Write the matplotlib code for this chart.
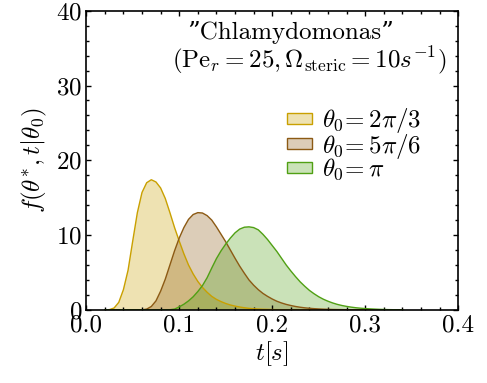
import numpy as np
import matplotlib
matplotlib.use("Agg")
import matplotlib.pyplot as plt
from matplotlib.patches import Patch

plt.rcParams["font.family"] = "serif"
plt.rcParams["font.serif"] = ["cmr10"]
plt.rcParams["mathtext.fontset"] = "cm"
plt.rcParams["axes.formatter.use_mathtext"] = True
plt.rcParams["font.size"] = 18

# sample times [s], shared by the three curves
t = np.round(np.arange(0.020, 0.3401, 0.005), 3)

# first-passage density f(theta*, t | theta0)
f_2pi3 = [0.0, 0.03, 0.25, 1.0, 2.7, 5.3, 9.2, 13.0, 15.7, 17.0,
          17.4, 17.1, 16.3, 14.9, 13.0, 11.0, 9.2, 7.5, 6.0, 4.8,
          3.8, 3.0, 2.35, 1.8, 1.4, 1.1, 0.85, 0.65, 0.5, 0.38,
          0.28, 0.2, 0.15, 0.11, 0.08, 0.06, 0.04, 0.03, 0.02, 0.01,
          0.0, 0.0, 0.0, 0.0, 0.0, 0.0, 0.0, 0.0, 0.0, 0.0,
          0.0, 0.0, 0.0, 0.0, 0.0, 0.0, 0.0, 0.0, 0.0, 0.0,
          0.0, 0.0, 0.0, 0.0, 0.0]
f_5pi6 = [0.0, 0.0, 0.0, 0.0, 0.0, 0.0, 0.0, 0.0, 0.0, 0.1,
          0.45, 1.2, 2.5, 4.1, 6.0, 7.9, 9.6, 11.0, 12.1, 12.75,
          13.0, 12.95, 12.6, 12.0, 11.1, 10.1, 9.1, 8.0, 6.9, 5.85,
          4.9, 4.0, 3.3, 2.7, 2.2, 1.8, 1.45, 1.15, 0.92, 0.73,
          0.58, 0.45, 0.35, 0.27, 0.21, 0.16, 0.12, 0.09, 0.07, 0.05,
          0.04, 0.03, 0.02, 0.01, 0.0, 0.0, 0.0, 0.0, 0.0, 0.0,
          0.0, 0.0, 0.0, 0.0, 0.0]
f_pi = [0.0, 0.0, 0.0, 0.0, 0.0, 0.0, 0.0, 0.0, 0.0, 0.0,
        0.0, 0.0, 0.0, 0.0, 0.02, 0.1, 0.4, 0.75, 1.2, 1.75,
        2.45, 3.25, 4.3, 5.6, 6.85, 7.9, 8.8, 9.6, 10.3, 10.8,
        11.05, 11.1, 11.0, 10.7, 10.1, 9.4, 8.6, 7.8, 6.9, 6.0,
        5.2, 4.45, 3.75, 3.15, 2.6, 2.15, 1.75, 1.42, 1.15, 0.92,
        0.73, 0.58, 0.46, 0.36, 0.28, 0.22, 0.17, 0.13, 0.1, 0.07,
        0.05, 0.03, 0.02, 0.01, 0.0]

labels = [r"$\theta_0\!=2\pi/3$", r"$\theta_0\!=5\pi/6$", r"$\theta_0\!=\pi$"]
colors = ["#c9a000", "#8c5a14", "#50a014"]

fig = plt.figure(figsize=(4.87, 3.83), dpi=100)
ax = fig.add_axes([0.177, 0.191, 0.764, 0.781])

handles = []
for f, c, lab in zip([f_2pi3, f_5pi6, f_pi], colors, labels):
    ax.fill_between(t, 0, f, facecolor=c, alpha=0.3, edgecolor="none")
    ax.plot(t, f, color=c, lw=1.0)
    handles.append(Patch(facecolor=matplotlib.colors.to_rgba(c, 0.3),
                         edgecolor=c, linewidth=1.0, label=lab))

ax.set_xlim(0, 0.4)
ax.set_ylim(0, 40)
ax.set_xticks([0.0, 0.1, 0.2, 0.3, 0.4])
ax.set_xticklabels(["0.0", "0.1", "0.2", "0.3", "0.4"])
ax.set_yticks([0, 10, 20, 30, 40])
ax.xaxis.set_minor_locator(matplotlib.ticker.MultipleLocator(0.02))
ax.yaxis.set_minor_locator(matplotlib.ticker.MultipleLocator(2))
ax.tick_params(which="both", direction="in", top=True, right=True, width=1)
ax.tick_params(which="major", length=3.5, pad=3)
ax.tick_params(which="minor", length=2)
for s in ax.spines.values():
    s.set_linewidth(1.2)

ax.set_xlabel(r"$t[s]$", labelpad=2)
ax.set_ylabel(r"$f(\theta^{*},t|\theta_0)$", labelpad=5)

# two-line annotation
ax.text(0.272, 0.926, "\u201dChlamydomonas\u201d", transform=ax.transAxes,
        ha="left", va="center", fontsize=18,
        family=["cmr10", "DejaVu Serif"])
ax.text(0.968, 0.835,
        r"$(\mathrm{Pe}_r=25,\Omega_{\mathrm{steric}}=10s^{-1})$",
        transform=ax.transAxes, ha="right", va="center", fontsize=18)

ax.legend(handles=handles, loc="upper left", bbox_to_anchor=(0.54, 0.68),
          frameon=False, handlelength=1.0, handleheight=0.3,
          handletextpad=0.4, labelspacing=-0.15, borderpad=0,
          borderaxespad=0)

fig.savefig("out.png", dpi=100)
